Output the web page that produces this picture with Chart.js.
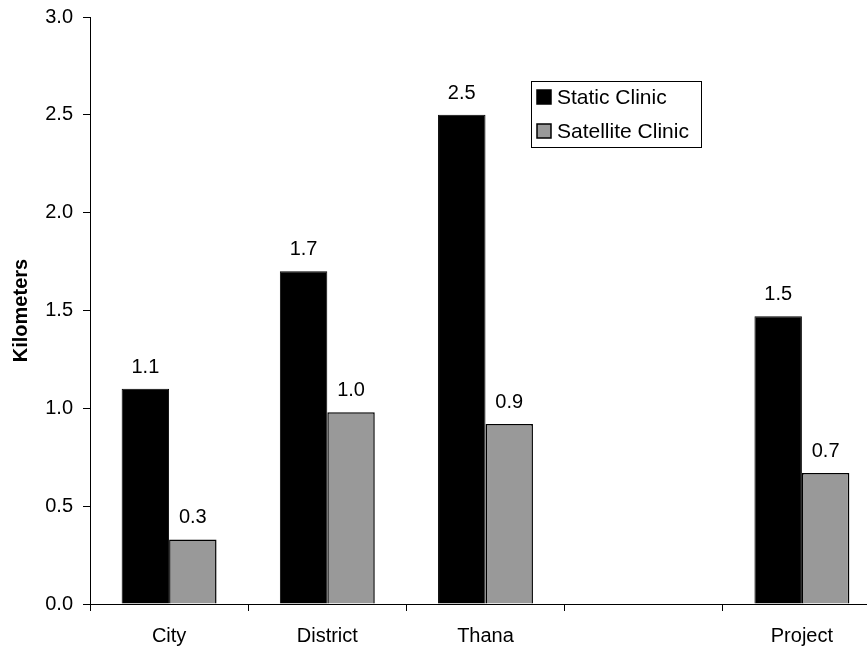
<!DOCTYPE html>
<html>
<head>
<meta charset="utf-8">
<script src="https://cdn.jsdelivr.net/npm/chart.js@4"></script>
<style>
    html, body { margin: 0; padding: 0; background: #fff; overflow: hidden; }
    #wrap { width: 867px; height: 648px; overflow: hidden; }
</style>
</head>
<body>
<div id="wrap"><canvas id="chart" width="900" height="648"></canvas></div>
<script>
const categories = ['City', 'District', 'Thana', '', 'Project']
const staticClinic = [1.1, 1.7, 2.5, null, 1.47]
const satelliteClinic = [0.33, 0.98, 0.92, null, 0.67]
const yTicks = [0, 0.5, 1.0, 1.5, 2.0, 2.5, 3.0]

const FONT = '"Liberation Sans", Arial, sans-serif'

// value labels above each bar
const valueLabels = {
    id: 'valueLabels',
    afterDatasetsDraw(chart) {
        const ctx = chart.ctx
        ctx.save()
        ctx.font = '20px ' + FONT
        ctx.fillStyle = '#000'
        ctx.textAlign = 'center'
        ctx.textBaseline = 'alphabetic'
        chart.data.datasets.forEach((ds, i) => {
            chart.getDatasetMeta(i).data.forEach((bar, j) => {
                const v = ds.data[j]
                if (v == null) return
                ctx.fillText(v.toFixed(1), bar.x, bar.y - 16)
            })
        })
        ctx.restore()
    }
}

// boxed legend like the original
const boxLegend = {
    id: 'boxLegend',
    afterDraw(chart) {
        const ctx = chart.ctx
        const x = 531, y = 81, w = 170, h = 66
        ctx.save()
        ctx.fillStyle = '#fff'
        ctx.fillRect(x, y, w, h)
        ctx.strokeStyle = '#000'
        ctx.lineWidth = 1
        ctx.strokeRect(x + 0.5, y + 0.5, w, h)
        ctx.font = '21px ' + FONT
        ctx.textBaseline = 'middle'
        chart.data.datasets.forEach((ds, i) => {
            const cy = y + 16 + i * 34
            ctx.fillStyle = ds.backgroundColor
            ctx.fillRect(537, cy - 7, 14, 14)
            ctx.strokeStyle = '#000'
            ctx.lineWidth = 1.5
            ctx.strokeRect(537, cy - 7, 14, 14)
            ctx.fillStyle = '#000'
            ctx.fillText(ds.label, 557, cy + 1)
        })
        ctx.restore()
    }
}

new Chart(document.getElementById('chart'), {
    type: 'bar',
    data: {
        labels: categories,
        datasets: [
            {
                label: 'Static Clinic',
                data: staticClinic,
                backgroundColor: '#000000',
                borderColor: '#000000',
                borderWidth: 1
            },
            {
                label: 'Satellite Clinic',
                data: satelliteClinic,
                backgroundColor: '#999999',
                borderColor: '#000000',
                borderWidth: 1.5
            }
        ]
    },
    options: {
        responsive: false,
        animation: false,
        layout: { padding: { left: 0, top: 17, right: 19, bottom: 0 } },
        datasets: { bar: { categoryPercentage: 0.6, barPercentage: 1 } },
        plugins: {
            legend: { display: false },
            tooltip: { enabled: false }
        },
        scales: {
            x: {
                afterFit(scale) {
                    scale.height = 44
                    scale.paddingLeft = 0
                    scale.paddingRight = 0
                },
                grid: { display: true, drawOnChartArea: false, offset: true, tickLength: 7, color: '#000' },
                border: { color: '#000', width: 1 },
                ticks: { color: '#000', font: { family: FONT, size: 20 }, padding: 13, maxRotation: 0 }
            },
            y: {
                min: 0,
                max: 3,
                afterFit(scale) {
                    scale.width = 90
                    scale.paddingTop = 0
                    scale.paddingBottom = 0
                },
                afterBuildTicks(scale) { scale.ticks = yTicks.map(v => ({ value: v })) },
                grid: { display: true, drawOnChartArea: false, tickLength: 7, color: '#000' },
                border: { color: '#000', width: 1 },
                ticks: {
                    color: '#000',
                    font: { family: FONT, size: 20 },
                    padding: 10,
                    callback: v => Number(v).toFixed(1)
                },
                title: {
                    display: true,
                    text: 'Kilometers',
                    color: '#000',
                    font: { family: FONT, size: 20, weight: 'bold' },
                    padding: { top: 9, bottom: 0 }
                }
            }
        }
    },
    plugins: [valueLabels, boxLegend]
})
</script>
</body>
</html>
